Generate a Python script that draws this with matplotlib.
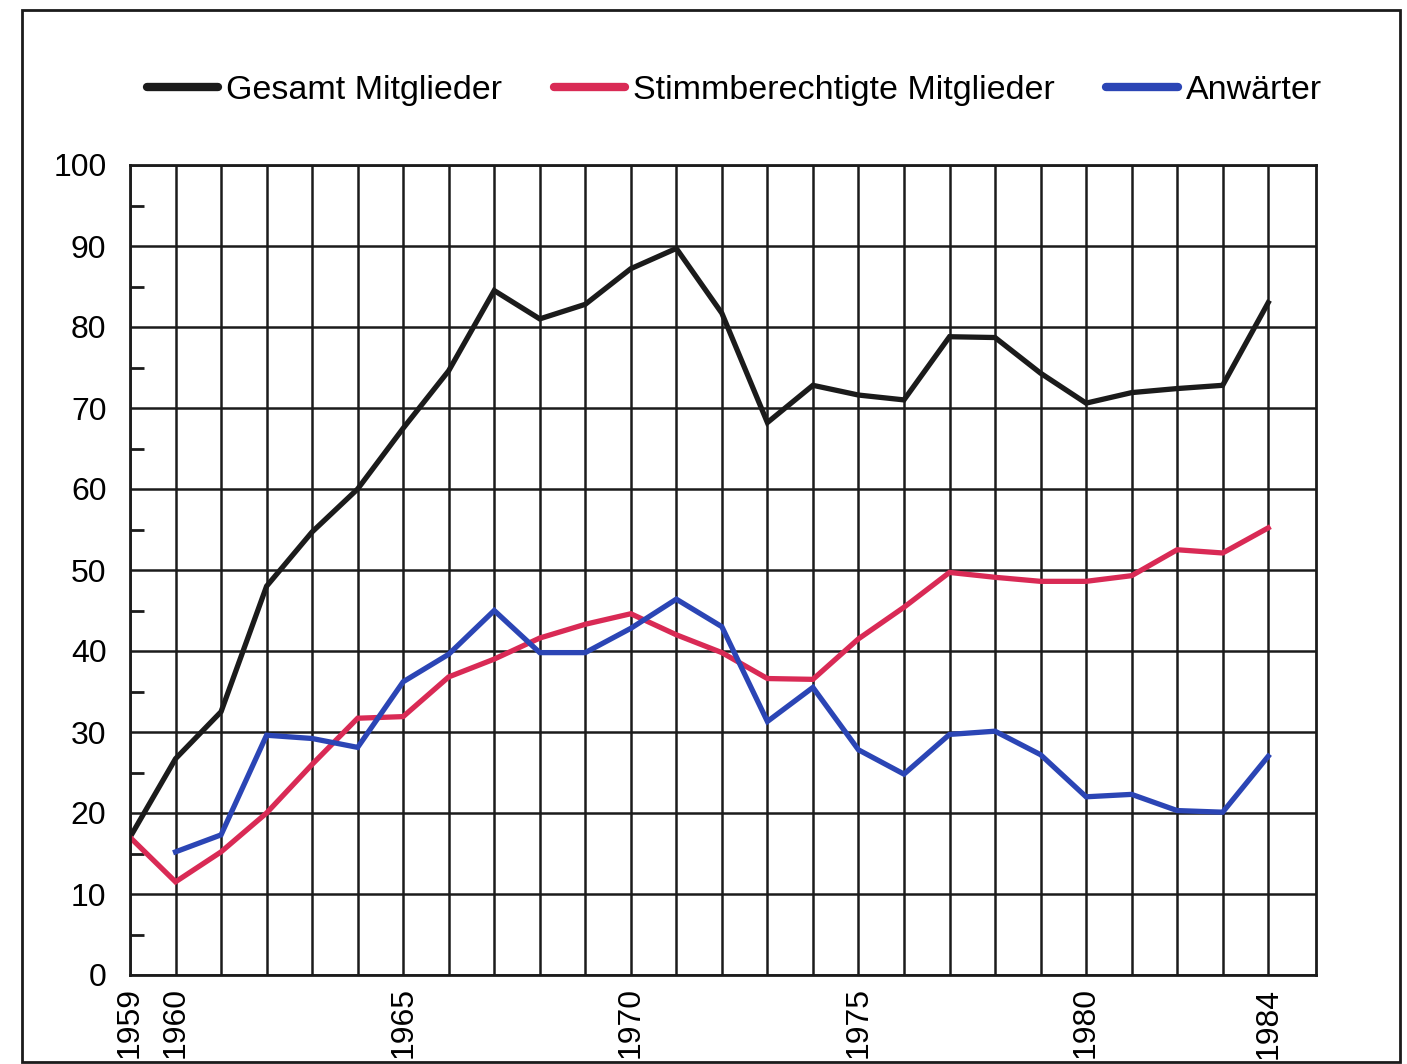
import numpy as np
import matplotlib
matplotlib.use("Agg")
import matplotlib.pyplot as plt
from matplotlib.patches import Rectangle
from matplotlib.ticker import MultipleLocator

plt.rcParams["font.family"] = ["Liberation Sans", "DejaVu Sans"]

# data
years = np.arange(1959, 1985)
gesamt = [17, 26.7, 32.5, 48, 54.7, 60, 67.5, 74.6, 84.5, 81, 82.8, 87.2, 89.7,
          81.7, 68.2, 72.8, 71.6, 71, 78.8, 78.7, 74.3, 70.6, 71.9, 72.4, 72.8, 83]
stimm = [17, 11.5, 15.2, 20, 26, 31.7, 31.9, 36.8, 39, 41.6, 43.3, 44.6, 42,
         39.8, 36.6, 36.5, 41.5, 45.4, 49.7, 49.1, 48.6, 48.6, 49.3, 52.5, 52.1, 55.2]
anwaerter = [np.nan, 15.2, 17.3, 29.6, 29.2, 28.1, 36.2, 39.6, 45, 39.8, 39.8, 42.8,
             46.4, 43, 31.3, 35.5, 27.8, 24.8, 29.7, 30.1, 27.2, 22, 22.3, 20.3, 20.1, 27]
labels = ["Gesamt Mitglieder", "Stimmberechtigte Mitglieder", "Anwärter"]
colors = ["#1b1b1b", "#d92a55", "#2b45b5"]
shown_years = [1959, 1960, 1965, 1970, 1975, 1980, 1984]

fig = plt.figure(figsize=(14.07, 10.64), dpi=100)
ax = fig.add_axes([130 / 1407, 1 - 975 / 1064, (1316 - 130) / 1407, (975 - 165) / 1064])

# outer frame of the picture
fig.patches.append(Rectangle((22 / 1407, 1 - 1062 / 1064), 1378 / 1407, 1052 / 1064,
                             transform=fig.transFigure, fill=False,
                             edgecolor="#1b1b1b", linewidth=2))

for vals, lab, col in zip([gesamt, stimm, anwaerter], labels, colors):
    ax.plot(years, vals, color=col, linewidth=3.8, label=lab, solid_joinstyle="miter")

ax.set_xlim(1959, 1985.05)
ax.set_ylim(0, 100)

ax.set_xticks(years)
ax.set_xticklabels([str(y) if y in shown_years else "" for y in years],
                   rotation=90, fontsize=23)
ax.set_yticks(np.arange(0, 101, 10))
ax.tick_params(axis="both", length=0, labelsize=23)
ax.tick_params(axis="x", pad=9)
ax.tick_params(axis="y", pad=17)
ax.yaxis.set_minor_locator(MultipleLocator(5))
ax.tick_params(axis="y", which="minor", direction="in", length=10, width=2,
               color="#1b1b1b", right=False)

ax.grid(True, which="major", color="#1b1b1b", linewidth=1.8)
ax.set_axisbelow(True)
for s in ax.spines.values():
    s.set_linewidth(2)
    s.set_color("#1b1b1b")

leg = ax.legend(loc="center", bbox_to_anchor=(0.522, 0.915),
                bbox_transform=fig.transFigure, ncol=3, frameon=False,
                fontsize=24.5, handlelength=2.1, handletextpad=0.25,
                columnspacing=1.5)
for h in leg.get_lines():
    h.set_linewidth(6)
    h.set_solid_capstyle("round")

fig.savefig("out.png", dpi=100)
